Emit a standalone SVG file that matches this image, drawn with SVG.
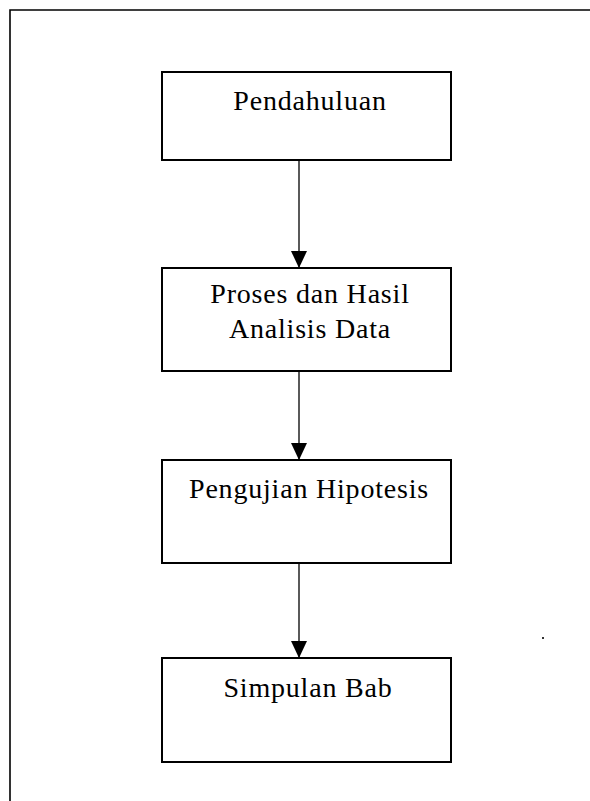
<svg xmlns="http://www.w3.org/2000/svg" width="590" height="801" viewBox="0 0 590 801">
  <style>
    .frame { fill: none; stroke: #000; stroke-width: 1.6; }
    .box { fill: #fff; stroke: #000; stroke-width: 2; }
    .label { font-family: "Liberation Serif", "Times New Roman", serif; font-size: 28px; letter-spacing: 0.8px; fill: #000; text-anchor: middle; }
    .link { stroke: #000; stroke-width: 1.3; fill: none; marker-end: url(#head); }
  </style>
  <defs>
    <!-- filled triangular arrowhead, drawn pointing along +x so orient="auto" aligns it with the line -->
    <marker id="head" markerUnits="userSpaceOnUse" markerWidth="17" markerHeight="16" refX="17" refY="8" orient="auto" viewBox="0 0 17 16">
      <path d="M0,0 L17,8 L0,16 Z" fill="#000"/>
    </marker>
  </defs>

  <!-- page frame: top and left edges only -->
  <path class="frame" d="M10,801 L10,10 L590,10"/>

  <g id="connectors">
    <line class="link" x1="299" y1="160" x2="299" y2="268"/>
    <line class="link" x1="299" y1="371" x2="299" y2="460"/>
    <line class="link" x1="299" y1="563" x2="299" y2="658"/>
  </g>

  <g id="pendahuluan">
    <rect class="box" x="162" y="72" width="289" height="88"/>
    <text class="label" x="310" y="110">Pendahuluan</text>
  </g>

  <g id="proses-hasil">
    <rect class="box" x="162" y="268" width="289" height="103"/>
    <text class="label" x="310" y="303">Proses dan Hasil</text>
    <text class="label" x="310" y="338">Analisis Data</text>
  </g>

  <g id="pengujian">
    <rect class="box" x="162" y="460" width="289" height="103"/>
    <text class="label" x="309" y="498">Pengujian Hipotesis</text>
  </g>

  <g id="simpulan">
    <rect class="box" x="162" y="658" width="289" height="104"/>
    <text class="label" x="308" y="697">Simpulan Bab</text>
  </g>

  <rect x="542" y="637" width="2" height="2" fill="#333"/>
</svg>
